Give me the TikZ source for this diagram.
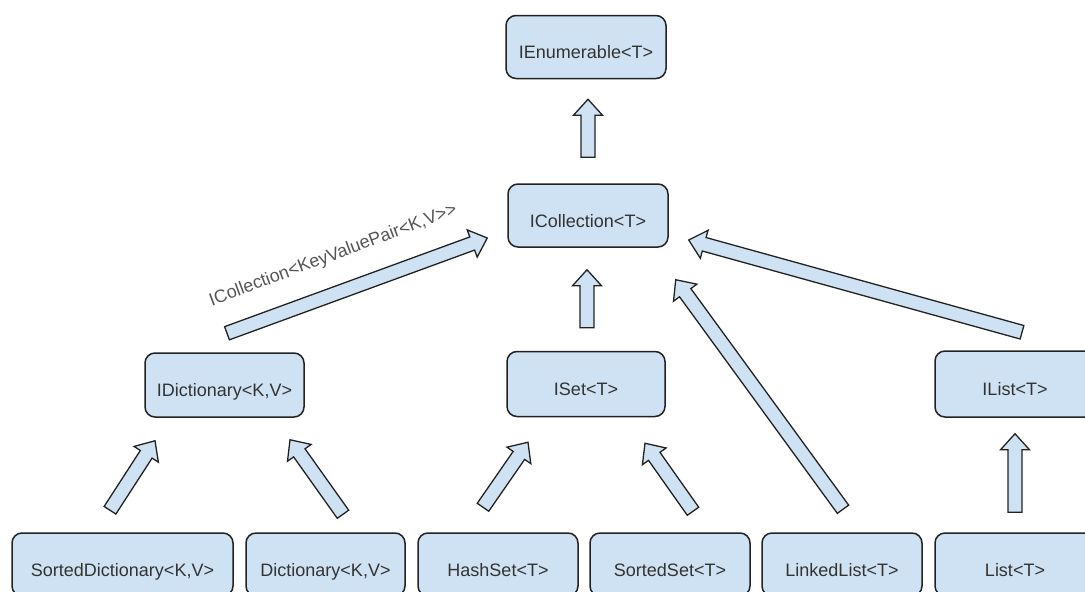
\documentclass[tikz,border=0pt]{standalone}
\usepackage{fontspec}
\setmainfont{Liberation Sans}
\usetikzlibrary{calc}

\definecolor{boxblue}{HTML}{CFE2F3}
\definecolor{boxline}{HTML}{222222}
\definecolor{boxtext}{HTML}{333333}
\definecolor{labeltext}{HTML}{555555}

\tikzset{
	iface/.style={draw=boxline, line width=1.5pt, fill=boxblue, rounded corners=10pt,
		minimum width=160pt, minimum height=63pt, inner sep=0pt, text=boxtext,
		font=\fontsize{18}{22}\selectfont, text height=23pt, text depth=0pt},
	kvlabel/.style={text=labeltext, font=\fontsize{18}{22}\selectfont, inner sep=0pt},
	blockarrow/.style={draw=boxline, line width=1.3pt, fill=boxblue, line join=miter,
		to path={let \p1=($(\tikztotarget)-(\tikztostart)$),
			\n1={atan2(\y1,\x1)}, \n2={veclen(\x1,\y1)-16} in
			($(\tikztostart)+(\n1+90:7pt)$)
			-- ($(\tikztostart)+(\n1:{\n2*1pt})+(\n1+90:7pt)$)
			-- ($(\tikztostart)+(\n1:{\n2*1pt})+(\n1+90:14.5pt)$)
			-- (\tikztotarget)
			-- ($(\tikztostart)+(\n1:{\n2*1pt})+(\n1-90:14.5pt)$)
			-- ($(\tikztostart)+(\n1:{\n2*1pt})+(\n1-90:7pt)$)
			-- ($(\tikztostart)+(\n1-90:7pt)$) -- cycle}}
}

\begin{document}
\begin{tikzpicture}[x=1pt, y=-1pt]
	\useasboundingbox (0,0) rectangle (1085,592);

	% Interfaces
	\node[iface] (ienum) at (586,47) {IEnumerable<T>};
	\node[iface] (icoll) at (588,215.5) {ICollection<T>};
	\node[iface, minimum width=159pt, minimum height=64pt] (idict) at (224.5,385) {IDictionary<K,V>};
	\node[iface, minimum width=158pt, minimum height=65pt] (iset) at (586,384) {ISet<T>};
	\node[iface, minimum height=66pt] (ilist) at (1015,384) {IList<T>};

	% Classes
	\node[iface, minimum width=221pt] (sdict) at (122.5,564.5) {SortedDictionary<K,V>};
	\node[iface, minimum width=159pt] (dict) at (325.5,564.5) {Dictionary<K,V>};
	\node[iface] (hset) at (498,564.5) {HashSet<T>};
	\node[iface] (sset) at (670,564.5) {SortedSet<T>};
	\node[iface] (llist) at (842,564.5) {LinkedList<T>};
	\node[iface] (list) at (1015,564.5) {List<T>};

	% Arrow ends
	\coordinate (enum-t) at ($(icoll.north)+(0,-26)$);
	\coordinate (enum-h) at ($(icoll.north|-ienum.south)+(0,20)$);
	\coordinate (set-t) at ($(iset.north)+(1,-23)$);
	\coordinate (set-h) at ($(icoll.south)+(-1,22)$);
	\coordinate (kv-t) at ($(idict.north)+(2.5,-19)$);
	\coordinate (kv-h) at ($(icoll.west)+(-20,22.5)$);
	\coordinate (llist-t) at ($(llist.north)+(1,-23)$);
	\coordinate (llist-h) at ($(icoll.south east)+(7,32)$);
	\coordinate (ilist-t) at ($(ilist.north)+(7,-18)$);
	\coordinate (ilist-h) at ($(icoll.east)+(20,24.5)$);
	\coordinate (sdict-t) at ($(sdict.north)+(-12.5,-22)$);
	\coordinate (sdict-h) at ($(idict.south)+(-69.5,23)$);
	\coordinate (dict-t) at ($(dict.north)+(17.5,-18)$);
	\coordinate (dict-h) at ($(idict.south)+(65.5,22)$);
	\coordinate (hset-t) at ($(hset.north)+(-15,-25)$);
	\coordinate (hset-h) at ($(iset.south)+(-58,25)$);
	\coordinate (sset-t) at ($(sset.north)+(23,-21)$);
	\coordinate (sset-h) at ($(iset.south)+(59,26)$);
	\coordinate (list-t) at ($(list.north)+(0,-20)$);
	\coordinate (list-h) at ($(ilist.south)+(0,16)$);

	% Inheritance arrows
	\foreach \e in {enum, set, kv, llist, ilist, sdict, dict, hset, sset, list} {
		\draw[blockarrow] (\e-t) to (\e-h);
	}

	\node[kvlabel, rotate=20.5, anchor=base] (kvtext) at (335,260) {ICollection<KeyValuePair<K,V>{}>};
\end{tikzpicture}
\end{document}
